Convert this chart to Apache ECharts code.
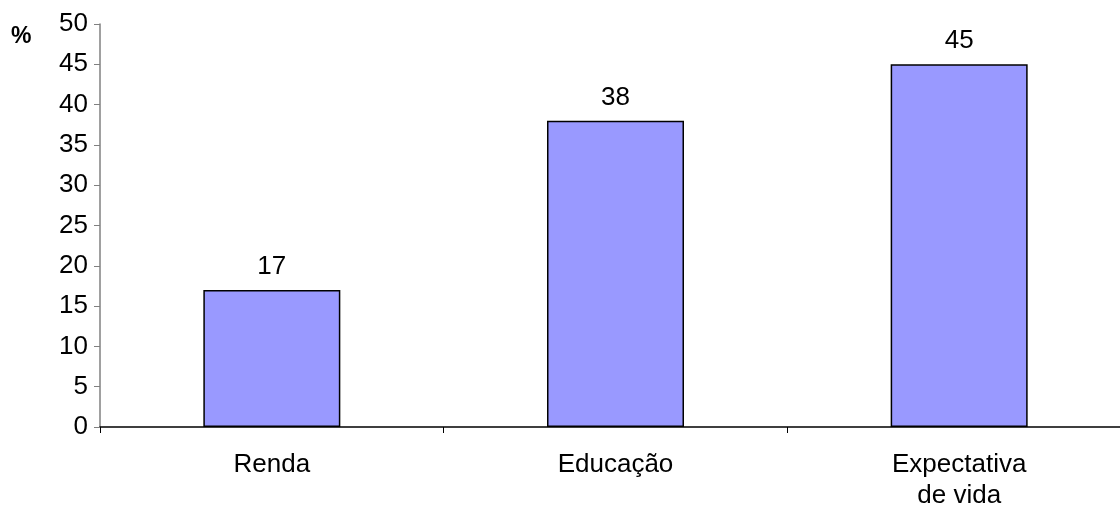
<!DOCTYPE html>
<html>
<head>
<meta charset="utf-8">
<script src="https://cdn.jsdelivr.net/npm/echarts@6/dist/echarts.min.js"></script>
<style>
html,body{margin:0;padding:0;background:#fff;}
#chart{width:1120px;height:507px;}
</style>
</head>
<body>
<div id="chart"></div>
<script>
const categories = ['Renda', 'Educação', 'Expectativa\nde vida'];
const values = [17, 38, 45];
const yMin = 0, yMax = 50, yStep = 5;

const chart = echarts.init(document.getElementById('chart'));
chart.setOption({
  animation: false,
  textStyle: { fontFamily: 'Liberation Sans, Arial, sans-serif' },
  // the plot area runs slightly past the right edge of the canvas
  grid: { left: 100, width: 1031, top: 24, height: 403, containLabel: false, outerBoundsMode: 'none' },
  graphic: [{
    type: 'text', left: 11, top: 25,
    style: { text: '%', font: 'bold 23px "Liberation Sans", Arial, sans-serif', fill: '#000' }
  }],
  xAxis: {
    type: 'category',
    data: categories,
    axisLine: { lineStyle: { color: '#000', width: 1.5 } },
    axisTick: { show: true, length: 6, lineStyle: { color: '#000' } },
    axisLabel: { color: '#000', fontSize: 26, lineHeight: 31, margin: 22 }
  },
  yAxis: {
    type: 'value', min: yMin, max: yMax, interval: yStep,
    axisLine: { show: true, lineStyle: { color: '#808080', width: 1.5 } },
    axisTick: { show: true, length: 6, lineStyle: { color: '#808080' } },
    axisLabel: { color: '#000', fontSize: 26, margin: 12 },
    splitLine: { show: false }
  },
  series: [{
    type: 'bar',
    data: values,
    barWidth: 137,
    itemStyle: { color: '#9999FF', borderColor: '#000', borderWidth: 1.5 },
    label: { show: true, position: 'top', distance: 10, color: '#000', fontSize: 26 }
  }]
});
</script>
</body>
</html>
